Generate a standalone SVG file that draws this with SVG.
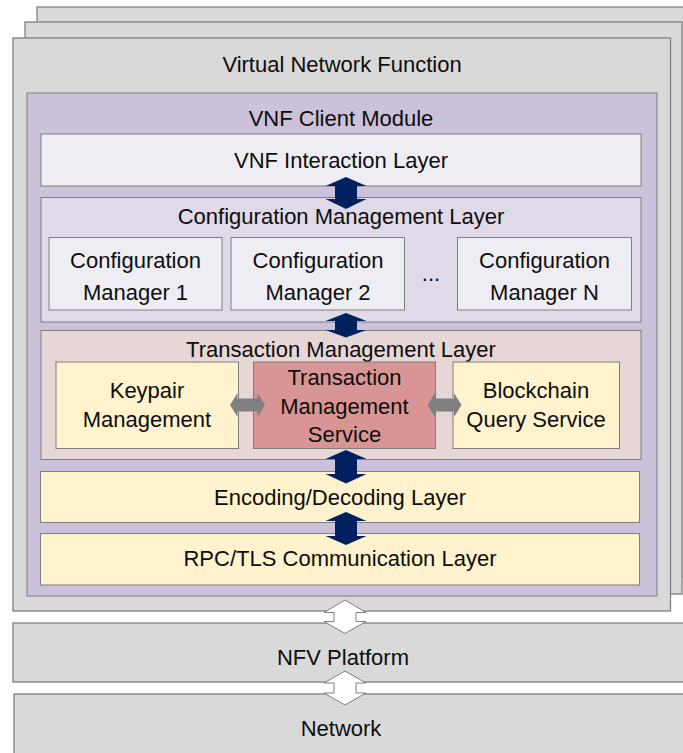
<svg xmlns="http://www.w3.org/2000/svg" width="683" height="753" viewBox="0 0 683 753">
<style>
text{font-family:"Liberation Sans",Arial,sans-serif;font-size:22px;fill:#0d0d0d;text-anchor:middle}
.g{fill:#d9d9d9;stroke:#808080;stroke-width:1.3}
.b{stroke:#7f7f7f;stroke-width:1}
.navy{fill:#002060}
.gray{fill:#808080}
.hollow{fill:#ffffff;stroke:#808080;stroke-width:1}
</style>
<rect width="683" height="753" fill="#ffffff"/>
<g id="vnf-back2"><rect class="g" x="37" y="7" width="660" height="570"/></g>
<g id="vnf-back1"><rect class="g" x="25" y="22" width="657" height="572"/></g>
<g id="vnf"><rect class="g" x="13" y="38" width="657.5" height="573"/><text x="342" y="72" font-size="22.4">Virtual Network Function</text></g>
<g id="nfv"><rect class="g" x="13" y="623" width="680" height="59"/><text x="343" y="665">NFV Platform</text></g>
<g id="network"><rect class="g" x="14" y="694" width="680" height="70"/><text x="341" y="736">Network</text></g>
<g id="client"><rect class="b" x="27" y="93" width="630" height="503" fill="#ccc1da"/><text x="341" y="126">VNF Client Module</text></g>
<g id="interaction"><rect class="b" x="41" y="134" width="600" height="52" fill="#efedf4"/><text x="341" y="168">VNF Interaction Layer</text></g>
<g id="cml"><rect class="b" x="41" y="197.5" width="600" height="124.5" fill="#dfd9e8"/><text x="341" y="224">Configuration Management Layer</text></g>
<g id="cm1"><rect class="b" x="49" y="237.5" width="173" height="72.5" fill="#efedf4"/><text x="135.5" y="268">Configuration</text><text x="135.5" y="300">Manager 1</text></g>
<g id="cm2"><rect class="b" x="231" y="237.5" width="173.5" height="72.5" fill="#efedf4"/><text x="318" y="268">Configuration</text><text x="318" y="300">Manager 2</text></g>
<g id="dots"><text x="431" y="281">...</text></g>
<g id="cmn"><rect class="b" x="457.5" y="237.5" width="174" height="72.5" fill="#efedf4"/><text x="544.5" y="268">Configuration</text><text x="544.5" y="300">Manager N</text></g>
<g id="tml"><rect class="b" x="41" y="330.5" width="600" height="129" fill="#e6d6d6"/><text x="341" y="357">Transaction Management Layer</text></g>
<g id="keypair"><rect class="b" x="56" y="362" width="182.5" height="86.5" fill="#fff2cc"/><text x="147" y="398">Keypair</text><text x="147" y="427">Management</text></g>
<g id="tms"><rect class="b" x="253.5" y="362" width="182" height="86.5" fill="#d99594"/><text x="344.5" y="385">Transaction</text><text x="344.5" y="414">Management</text><text x="344.5" y="442">Service</text></g>
<g id="blockchain"><rect class="b" x="453" y="362" width="166.5" height="86.5" fill="#fff2cc"/><text x="536" y="398">Blockchain</text><text x="536" y="427">Query Service</text></g>
<g id="encoding"><rect class="b" x="40.5" y="471.5" width="599" height="51" fill="#fff2cc"/><text x="340" y="505">Encoding/Decoding Layer</text></g>
<g id="rpc"><rect class="b" x="40.5" y="533.5" width="599" height="51.5" fill="#fff2cc"/><text x="340" y="566">RPC/TLS Communication Layer</text></g>
<g id="connectors">
<polygon class="navy" points="346,177 366.5,186 357,186 357,199 366.5,199 346,209 325.5,199 335,199 335,186 325.5,186"/>
<polygon class="navy" points="346,313 366.5,321 357,321 357,330 366.5,330 346,337.5 325.5,330 335,330 335,321 325.5,321"/>
<polygon class="navy" points="346,450 366.5,459 357,459 357,474 366.5,474 346,483.5 325.5,474 335,474 335,459 325.5,459"/>
<polygon class="navy" points="346,512 366.5,521 357,521 357,536 366.5,536 346,545 325.5,536 335,536 335,521 325.5,521"/>
<polygon class="gray" points="230,405 237.5,393 237.5,398.5 257.5,398.5 257.5,393 265,405 257.5,417 257.5,411.5 237.5,411.5 237.5,417"/>
<polygon class="gray" points="427.5,405 435,393 435,398.5 454,398.5 454,393 461.5,405 454,417 454,411.5 435,411.5 435,417"/>
<polygon class="hollow" points="345,600 366,612.5 356,612.5 356,621.5 366,621.5 345,633.5 324,621.5 334,621.5 334,612.5 324,612.5"/>
<polygon class="hollow" points="345,671 366,683 356,683 356,693 366,693 345,705 324,693 334,693 334,683 324,683"/>
</g>
</svg>
